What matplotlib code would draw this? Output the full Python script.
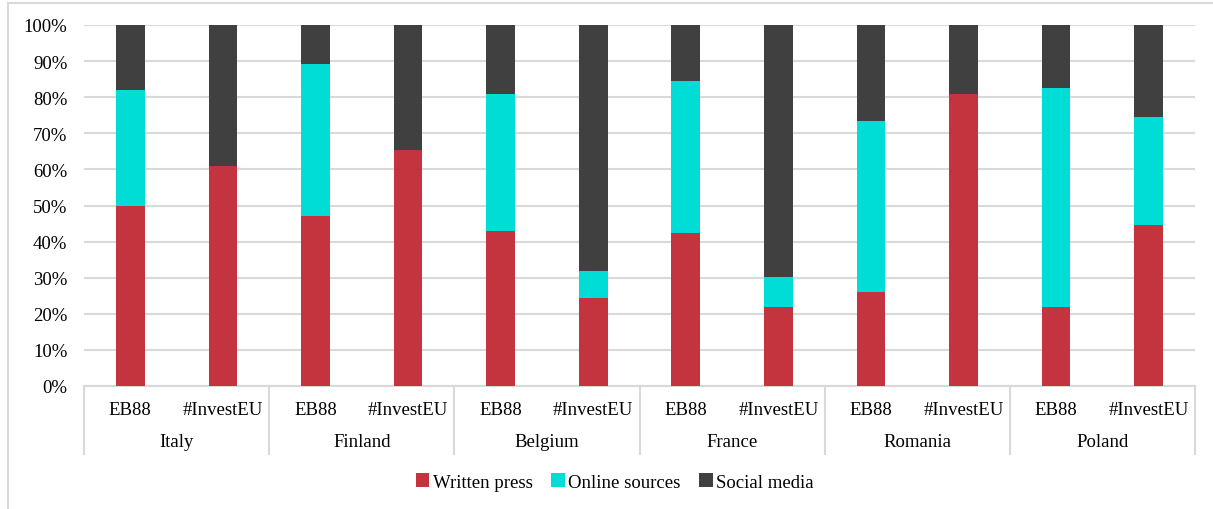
import matplotlib
matplotlib.use("Agg")
import matplotlib.pyplot as plt
from matplotlib.patches import Patch, Rectangle
from matplotlib.ticker import FuncFormatter
import matplotlib.transforms as mtransforms
import numpy as np

plt.rcParams['font.family'] = ['Liberation Serif', 'DejaVu Serif']

countries = ["Italy", "Finland", "Belgium", "France", "Romania", "Poland"]
sources = ["EB88", "#InvestEU"]
series_names = ["Written press", "Online sources", "Social media"]

# shares (%) per bar, ordered country by country: EB88 then #InvestEU
written_press = [50.0, 61.0, 47.0, 65.3, 42.8, 24.3, 42.3, 22.0, 26.1, 81.0, 22.0, 44.5]
online_sources = [32.0, 0.0, 42.1, 0.0, 38.1, 7.6, 42.1, 8.2, 47.3, 0.0, 60.6, 30.1]
social_media = [100 - w - o for w, o in zip(written_press, online_sources)]

colors = ["#C3343F", "#00DCD6", "#404040"]
grid_color = "#D9D9D9"
fs = 13.5

fig = plt.figure(figsize=(12.13, 5.10), dpi=100)
ax = fig.add_axes([84 / 1213, 123 / 510, (1195 - 84) / 1213, 361 / 510])

x = np.arange(len(written_press))
bottom = np.zeros(len(x))
for vals, col, name in zip([written_press, online_sources, social_media], colors, series_names):
    ax.bar(x, vals, width=0.31, bottom=bottom, color=col, label=name, zorder=3)
    bottom += np.array(vals)

ax.set_xlim(-0.5, len(x) - 0.5)
ax.set_ylim(0, 100)
ax.set_yticks(np.arange(0, 101, 10))
ax.yaxis.set_major_formatter(FuncFormatter(lambda v, p: f"{int(v)}%"))
ax.tick_params(axis='y', length=0, pad=12, labelsize=fs, colors="#000000")
ax.set_xticks([])
ax.grid(axis='y', color=grid_color, linewidth=1.5, zorder=0)
for s in ["top", "right", "left"]:
    ax.spines[s].set_visible(False)
ax.spines["bottom"].set_color(grid_color)
ax.spines["bottom"].set_linewidth(1.5)

trans = mtransforms.blended_transform_factory(ax.transData, ax.transAxes)
# group separators of the two-level category axis
for b in np.arange(-0.5, len(x), 2):
    ax.plot([b, b], [0, -0.188], transform=trans, color=grid_color, lw=1.5, clip_on=False)
# sub-category labels
for i in x:
    ax.text(i, -0.064, sources[i % 2], transform=trans, ha='center', va='center', fontsize=fs)
# country labels
for k, c in enumerate(countries):
    ax.text(2 * k + 0.5, -0.155, c, transform=trans, ha='center', va='center', fontsize=fs)

handles = [Patch(facecolor=c, edgecolor='none') for c in colors]
fig.legend(handles, series_names, loc='center', bbox_to_anchor=(615 / 1213, 1 - 483 / 510),
           ncol=3, frameon=False, fontsize=fs, handlelength=0.7, handleheight=0.7,
           handletextpad=0.2, columnspacing=1.0)

# outer frame of the chart area
fig.patches.append(Rectangle((8 / 1213, -0.1), 1.2, 1 - 4 / 510 + 0.1, transform=fig.transFigure,
                             fill=False, edgecolor=grid_color, linewidth=1.5))

fig.savefig("out.png", dpi=100)
